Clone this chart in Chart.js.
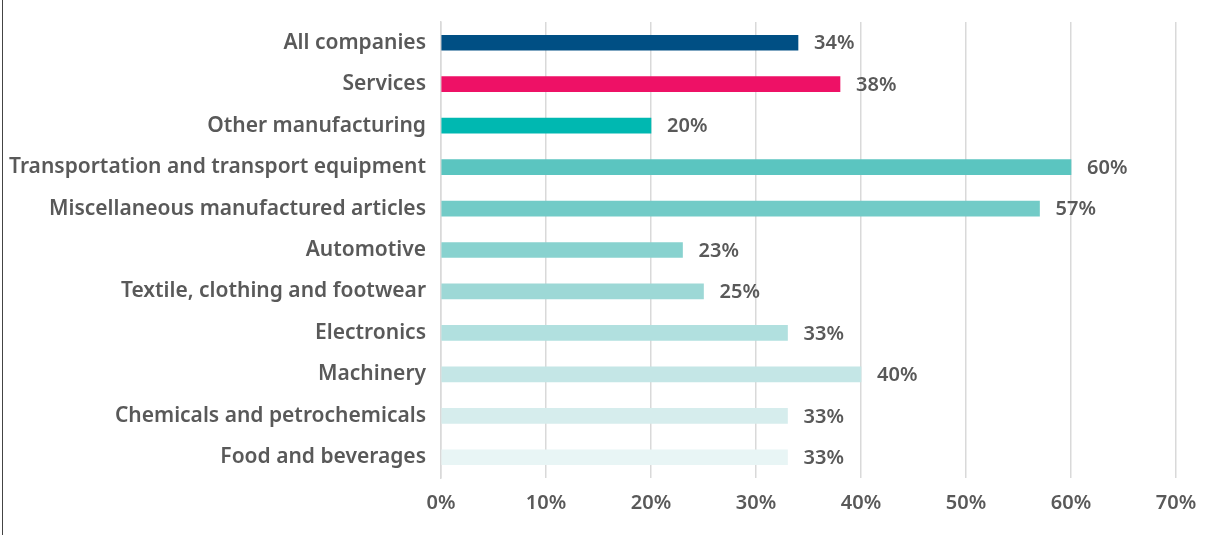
<!DOCTYPE html>
<html>
<head>
<meta charset="utf-8">
<script src="https://cdn.jsdelivr.net/npm/chart.js@4/dist/chart.umd.min.js"></script>
<style>
  html, body { margin: 0; padding: 0; background: #fff; }
  #wrap { position: relative; width: 1210px; height: 535px; }
  #frame { position: absolute; left: 2px; top: 0; width: 1px; height: 535px; background: #444; }
  canvas { position: absolute; left: 0; top: 0; }
</style>
</head>
<body>
<div id="wrap">
  <canvas id="c" width="1210" height="535"></canvas>
  <div id="frame"></div>
</div>
<script>
const categories = [
  "All companies",
  "Services",
  "Other manufacturing",
  "Transportation and transport equipment",
  "Miscellaneous manufactured articles",
  "Automotive",
  "Textile, clothing and footwear",
  "Electronics",
  "Machinery",
  "Chemicals and petrochemicals",
  "Food and beverages"
];
const values = [34, 38, 20, 60, 57, 23, 25, 33, 40, 33, 33];
const barColors = [
  "#004f84", "#ee1166", "#00b8b1", "#5bc5c0", "#72cbc7", "#88d2cf",
  "#9dd8d6", "#b1e0df", "#c4e6e6", "#d6eded", "#e8f5f5"
];
const tickValues = [0, 10, 20, 30, 40, 50, 60, 70];

const FONT = "'Noto Sans', 'Open Sans', sans-serif";
const TEXT = "#595959";

const dataLabels = {
  id: "dataLabels",
  afterDatasetsDraw(chart) {
    const ctx = chart.ctx;
    const meta = chart.getDatasetMeta(0);
    ctx.save();
    ctx.font = "600 20px " + FONT;
    ctx.fillStyle = TEXT;
    ctx.textAlign = "left";
    ctx.textBaseline = "middle";
    meta.data.forEach((bar, i) => {
      ctx.fillText(values[i] + "%", bar.x + 16, bar.y + 1);
    });
    ctx.restore();
  }
};

new Chart(document.getElementById("c"), {
  type: "bar",
  data: {
    labels: categories,
    datasets: [{
      data: values,
      backgroundColor: barColors,
      barThickness: 15,
      borderWidth: 0
    }]
  },
  options: {
    indexAxis: "y",
    responsive: false,
    animation: false,
    layout: { padding: { top: 22, right: 34, bottom: 0, left: 0 } },
    plugins: { legend: { display: false }, tooltip: { enabled: false } },
    scales: {
      x: {
        min: 0, max: 70,
        afterBuildTicks(scale) { scale.ticks = tickValues.map(v => ({ value: v })); },
        afterFit(scale) { scale.height = 57; },
        grid: { color: "#d9d9d9", lineWidth: 1.5, drawTicks: false },
        border: { display: false },
        ticks: {
          padding: 13,
          color: TEXT,
          font: { family: FONT, size: 20, weight: "600" },
          callback: v => v + "%"
        }
      },
      y: {
        afterFit(scale) {
          scale.width = 441;
          scale.paddingTop = 0;
          scale.paddingBottom = 0;
        },
        grid: { display: false, drawTicks: false },
        border: { display: true, color: "#d9d9d9", width: 1.5 },
        ticks: {
          padding: 15,
          color: TEXT,
          font: { family: FONT, size: 21, weight: "600" }
        }
      }
    }
  },
  plugins: [dataLabels]
});
</script>
</body>
</html>
